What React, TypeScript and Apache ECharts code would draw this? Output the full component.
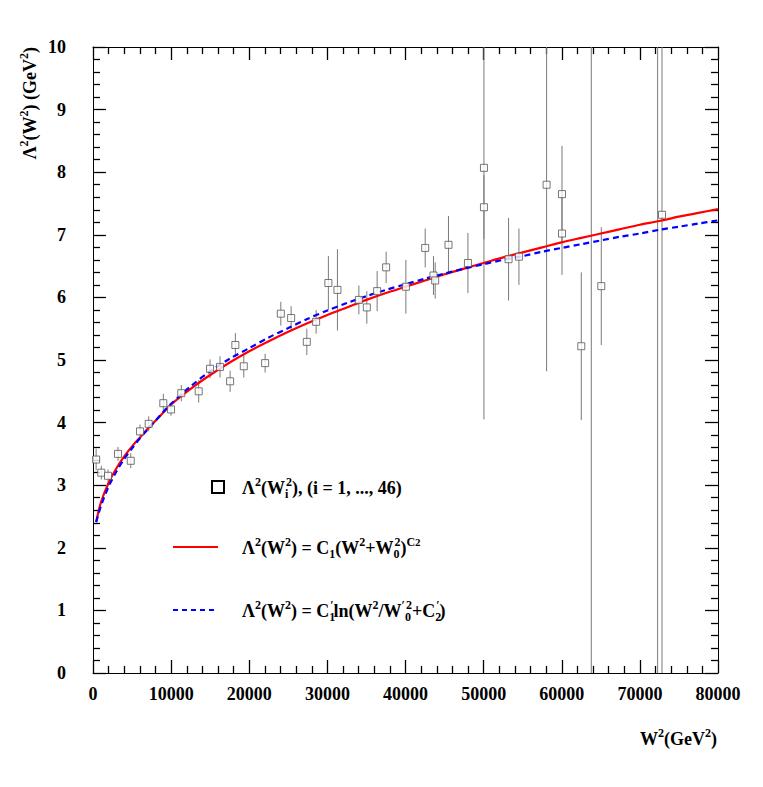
import React, { useEffect, useRef } from "react";
import * as echarts from "echarts";

// Measured data points: W^2 (GeV^2), Lambda^2 (GeV^2), error
const wSq = [400, 1060, 1920, 3200, 4830, 6020, 7130, 9000, 9990, 11300, 13530, 14980, 16260, 17550, 18220, 19300, 22030, 24040, 25360, 27370, 28560, 30130, 31290, 34030, 35050, 36370, 37520, 40050, 42520, 43580, 43800, 45500, 47990, 50040, 50040, 53190, 54520, 58060, 60030, 60030, 62500, 63780, 65060, 72270, 72830];
const lambdaSq = [3.41, 3.20, 3.15, 3.50, 3.39, 3.86, 3.98, 4.31, 4.21, 4.47, 4.50, 4.86, 4.89, 4.66, 5.24, 4.90, 4.95, 5.74, 5.67, 5.29, 5.61, 6.23, 6.12, 5.96, 5.84, 6.10, 6.48, 6.17, 6.79, 6.35, 6.27, 6.84, 6.55, 8.07, 7.44, 6.61, 6.65, 7.80, 7.65, 7.02, 5.22, 12.0, 6.18, 12.0, 7.32];
const lambdaErr = [0.17, 0.11, 0.10, 0.11, 0.12, 0.11, 0.12, 0.15, 0.10, 0.13, 0.18, 0.15, 0.17, 0.17, 0.19, 0.18, 0.15, 0.19, 0.19, 0.21, 0.19, 0.43, 0.65, 0.23, 0.26, 0.32, 0.25, 0.43, 0.31, 0.31, 0.29, 0.46, 0.48, 4.02, 0.51, 0.66, 0.45, 2.98, 0.77, 0.66, 1.18, 14, 0.94, 14, 12];

// Fit curves
const curveW = [400, 1000, 2000, 3000, 4000, 5000, 6000, 7000, 8000, 9000, 10000, 12500, 15000, 17500, 20000, 22500, 25000, 27500, 30000, 32500, 35000, 37500, 40000, 42500, 45000, 47500, 50000, 52500, 55000, 57500, 60000, 62500, 65000, 67500, 70000, 72500, 75000, 77500, 80000];
const powerFit = [2.41, 2.72, 3.04, 3.27, 3.46, 3.62, 3.76, 3.90, 4.03, 4.16, 4.29, 4.54, 4.76, 4.96, 5.14, 5.30, 5.45, 5.59, 5.72, 5.84, 5.96, 6.07, 6.17, 6.27, 6.37, 6.46, 6.55, 6.64, 6.72, 6.80, 6.88, 6.95, 7.02, 7.09, 7.16, 7.22, 7.29, 7.35, 7.41];
const logFit = [2.41, 2.66, 2.98, 3.22, 3.42, 3.59, 3.75, 3.89, 4.03, 4.17, 4.30, 4.58, 4.82, 5.02, 5.19, 5.36, 5.51, 5.66, 5.79, 5.91, 6.02, 6.12, 6.21, 6.30, 6.38, 6.46, 6.53, 6.60, 6.66, 6.73, 6.79, 6.85, 6.91, 6.97, 7.02, 7.08, 7.13, 7.18, 7.23];

const xTicks = { min: 0, max: 80000, interval: 10000 };
const yTicks = { min: 0, max: 10, interval: 1 };
const minorDivisions = 5;

const F = "'Liberation Serif', 'Times New Roman', serif";
const rich = {
  b: { fontSize: 18, fontWeight: "bold", fontFamily: F, lineHeight: 24, color: "#000" },
  sp: { fontSize: 12, fontWeight: "bold", fontFamily: F, lineHeight: 14, verticalAlign: "top", color: "#000" },
  sb: { fontSize: 12, fontWeight: "bold", fontFamily: F, lineHeight: 10, verticalAlign: "bottom", color: "#000" },
  sbz: { fontSize: 12, fontWeight: "bold", fontFamily: F, lineHeight: 10, verticalAlign: "bottom", width: 1, color: "#000" },
  spsub: { fontSize: 11, fontWeight: "bold", fontFamily: F, lineHeight: 23, verticalAlign: "top", color: "#000" },
};

export default function App() {
  const ref = useRef<HTMLDivElement>(null);
  useEffect(() => {
    if (!ref.current) return;
    const chart = echarts.init(ref.current, null, { renderer: "svg" });
    const points = wSq.map((w, i) => [w, lambdaSq[i], lambdaErr[i]]);
    const axisFont = { fontSize: 18, fontWeight: "bold" as const, fontFamily: F, color: "#000" };
    const frameLine = { show: true, onZero: false, lineStyle: { color: "#000", width: 1 } };
    const tickBase = { show: true, inside: true, length: 13, lineStyle: { color: "#000", width: 1.3 } };
    const minorBase = { show: true, splitNumber: minorDivisions, length: 7, lineStyle: { color: "#000", width: 1.3 } };
    chart.setOption({
      animation: false,
      backgroundColor: "#fff",
      grid: { left: 93, right: 45, top: 47, bottom: 114, outerBoundsMode: "none", containLabel: false },
      xAxis: [
        {
          type: "value", ...xTicks, position: "bottom",
          axisLine: frameLine, axisTick: tickBase, minorTick: minorBase,
          splitLine: { show: false },
          axisLabel: { ...axisFont, margin: 12, formatter: (v: number) => String(v) },
        },
        {
          type: "value", ...xTicks, position: "top",
          axisLine: frameLine, axisTick: tickBase, minorTick: minorBase,
          splitLine: { show: false },
          axisLabel: { show: false },
        },
      ],
      yAxis: [
        {
          type: "value", ...yTicks, position: "left",
          axisLine: frameLine, axisTick: tickBase, minorTick: minorBase,
          splitLine: { show: false },
          axisLabel: { ...axisFont, margin: 27, formatter: (v: number) => String(v) },
        },
        {
          type: "value", ...yTicks, position: "right",
          axisLine: frameLine, axisTick: tickBase, minorTick: minorBase,
          splitLine: { show: false },
          axisLabel: { show: false },
        },
      ],
      series: [
        {
          type: "custom",
          xAxisIndex: 0, yAxisIndex: 0,
          encode: { x: 0, y: 1 },
          data: points,
          z: 2,
          renderItem: (params: any, api: any) => {
            const x = api.value(0);
            const y = api.value(1);
            const e = api.value(2);
            const lo = Math.max(yTicks.min, y - e);
            const hi = Math.min(yTicks.max, y + e);
            if (hi <= lo) return null;
            const p1 = api.coord([x, lo]);
            const p2 = api.coord([x, hi]);
            return {
              type: "line",
              shape: { x1: p1[0], y1: p1[1], x2: p2[0], y2: p2[1] },
              style: { stroke: "#7a7a7a", lineWidth: 1 },
            };
          },
        },
        {
          type: "line",
          data: curveW.map((w, i) => [w, powerFit[i]]),
          smooth: 0.3,
          showSymbol: false,
          z: 3,
          lineStyle: { color: "#ff0000", width: 2.2 },
        },
        {
          type: "line",
          data: curveW.map((w, i) => [w, logFit[i]]),
          smooth: 0.3,
          showSymbol: false,
          z: 4,
          lineStyle: { color: "#0000ff", width: 2.2, type: [6, 4] },
        },
        {
          type: "scatter",
          data: points.map((p) => [p[0], p[1]]),
          symbol: "rect",
          symbolSize: 7,
          clip: true,
          z: 5,
          itemStyle: { color: "#fff", borderColor: "#555", borderWidth: 1 },
        },
      ],
      graphic: [
        {
          type: "text", x: 30, y: 47, rotation: Math.PI / 2,
          style: { text: "{b|Λ}{sp|2}{b|(W}{sp|2}{b|) (GeV}{sp|2}{b|)}", rich, align: "right", verticalAlign: "middle" },
        },
        {
          type: "text", x: 717, y: 739,
          style: { text: "{b|W}{sp|2}{b|(GeV}{sp|2}{b|)}", rich, align: "right", verticalAlign: "middle" },
        },
        {
          type: "rect", shape: { x: 212, y: 481, width: 12, height: 12 },
          style: { fill: "#fff", stroke: "#000", lineWidth: 2 },
        },
        {
          type: "text", x: 242, y: 488,
          style: { text: "{b|Λ}{sp|2}{b|(W}{sbz|i}{sp|2}{b|), (i = 1, ..., 46)}", rich, align: "left", verticalAlign: "middle" },
        },
        {
          type: "line", shape: { x1: 173, y1: 547, x2: 218, y2: 547 },
          style: { stroke: "#ff0000", lineWidth: 2 },
        },
        {
          type: "text", x: 242, y: 548,
          style: { text: "{b|Λ}{sp|2}{b|(W}{sp|2}{b|) = C}{sb|1}{b|(W}{sp|2}{b|+W}{sbz|0}{sp|2}{b|)}{sp|C}{spsub|2}", rich, align: "left", verticalAlign: "middle" },
        },
        {
          type: "line", shape: { x1: 173, y1: 610, x2: 218, y2: 610 },
          style: { stroke: "#0000ff", lineWidth: 2, lineDash: [5, 4] },
        },
        {
          type: "text", x: 242, y: 611,
          style: { text: "{b|Λ}{sp|2}{b|(W}{sp|2}{b|) = C}{sbz|1}{sp|′}{b|ln(W}{sp|2}{b|/W}{sp|′}{sbz|0}{sp|2}{b|+C}{sbz|2}{sp|′}{b|)}", rich, align: "left", verticalAlign: "middle" },
        },
      ],
    });
    return () => chart.dispose();
  }, []);
  return (
    <div
      ref={ref}
      style={{ position: "fixed", left: 0, top: 0, width: 763, height: 787, background: "#fff" }}
    />
  );
}
